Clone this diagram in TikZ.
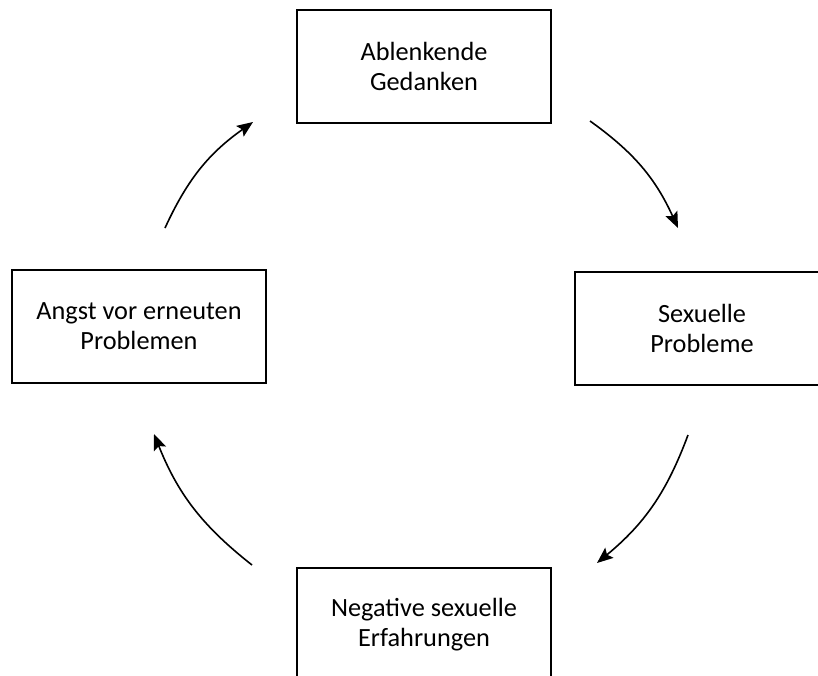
\documentclass[tikz,border=0pt]{standalone}
\usepackage{fontspec}
\setmainfont{Carlito}
\usetikzlibrary{arrows.meta}

\begin{document}
\begin{tikzpicture}[x=1pt,y=-1pt,node distance=279pt,
    box/.style={draw,line width=2pt,minimum width=254pt,minimum height=113pt,align=center,font=\fontsize{26.3}{30}\selectfont},
    cycle arrow/.style={-{Stealth[length=16pt,width=13pt,inset=3pt]},line width=1.6pt,bend left=15}]
                    \clip (0,0) rectangle (818,675);

                    \node[box] (gedanken) at (424,66) {Ablenkende\\Gedanken};
                    \node[box] (probleme) [below of = gedanken, xshift = 278, yshift = 16.5] {Sexuelle\\Probleme};
                    \node[box] (erfahrungen) [below of = probleme, xshift = -278, yshift = -17] {Negative sexuelle\\Erfahrungen};
                    \node[box] (angst) [below of = gedanken, xshift = -285, yshift = 19] {Angst vor erneuten\\Problemen};

                    \coordinate (g1) at (590,121);
                    \coordinate (p1) at (678,228);
                    \coordinate (p2) at (688,435);
                    \coordinate (e1) at (597,563);
                    \coordinate (e2) at (252,565);
                    \coordinate (a1) at (154,434);
                    \coordinate (a2) at (165,228);
                    \coordinate (g2) at (253,122);

                    \path[cycle arrow]
                        (g1) edge (p1)
                        (p2) edge (e1)
                        (e2) edge (a1)
                        (a2) edge (g2)
                        ;
                \end{tikzpicture}
\end{document}
